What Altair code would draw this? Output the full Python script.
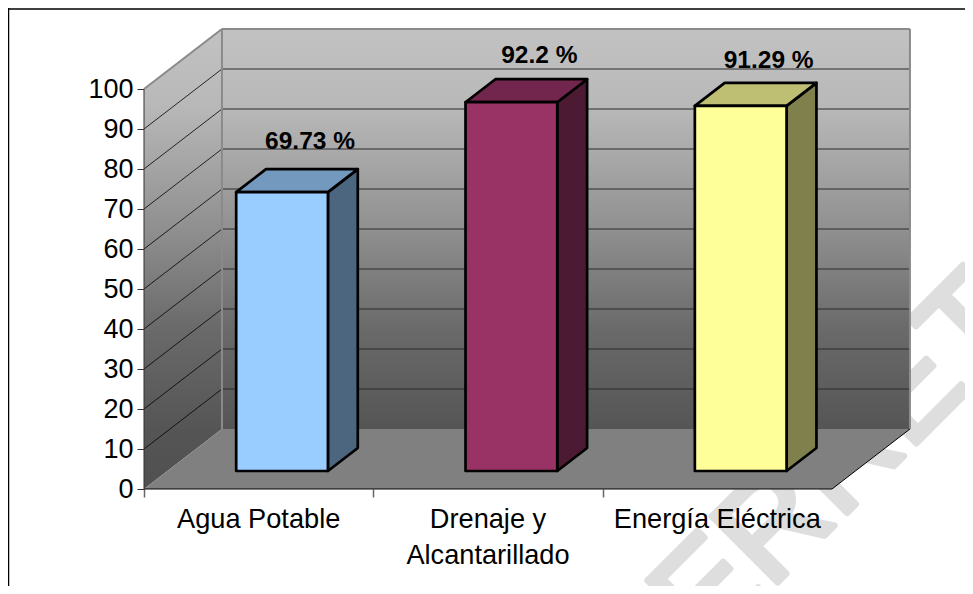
import altair as alt
import pandas as pd

categories = ["Agua Potable", "Drenaje y\nAlcantarillado", "Energía Eléctrica"]
values = [69.73, 92.2, 91.29]
value_labels = ["69.73 %", "92.2 %", "91.29 %"]
label_lift = [15.3, 14.2, 13.9]
front_colors = ["#99CCFF", "#993366", "#FFFF99"]
top_colors = ["#7399BF", "#73264D", "#BFBF73"]
side_colors = ["#4D6680", "#4D1A33", "#80804D"]
y_ticks = list(range(0, 101, 10))
x_ticks = [0, 1, 2, 3]
watermark = "ERRET"

# oblique projection, in data units
DX, DY = 0.34, 15
BAR_L, BAR_W = 0.3, 0.4
D0, D1 = 0.3, 0.683
FONT = "Liberation Sans"

xs = alt.Scale(domain=[-0.593, 3.58], nice=False, zero=False)
ys = alt.Scale(domain=[-24.25, 120.25], nice=False, zero=False)

x_axis = alt.Axis(
    values=x_ticks, labels=False, domain=False, grid=False, offset=-97,
    tickSize=8, tickColor="#666666", tickWidth=1.5, title=None)
y_axis = alt.Axis(
    values=y_ticks, domain=False, grid=False, offset=-136, tickSize=7,
    tickColor="#333333", tickWidth=1, labelFont=FONT, labelFontSize=27,
    labelColor="#000000", labelPadding=4, title=None)


def X(f="x"):
    return alt.X(f"{f}:Q", scale=xs, axis=x_axis, title=None)


def Y(f="y"):
    return alt.Y(f"{f}:Q", scale=ys, axis=y_axis, stack=None, title=None)


def area_layer(rows, **mark):
    return alt.Chart(pd.DataFrame(rows)).mark_area(**mark).encode(
        x=X(), y=Y(), y2=alt.Y2("y2:Q")
    )


wall_grad = alt.Gradient(
    gradient="linear", x1=0, x2=0, y1=0, y2=1,
    stops=[
        alt.GradientStop(offset=0, color="#c2c2c2"),
        alt.GradientStop(offset=0.2, color="#b8b8b8"),
        alt.GradientStop(offset=0.5, color="#909090"),
        alt.GradientStop(offset=0.75, color="#6a6a6a"),
        alt.GradientStop(offset=1, color="#555555"),
    ],
)
left_grad = alt.Gradient(
    gradient="linear", x1=0, x2=0, y1=0, y2=1,
    stops=[
        alt.GradientStop(offset=0, color="#c2c2c2"),
        alt.GradientStop(offset=0.17, color="#b8b8b8"),
        alt.GradientStop(offset=0.43, color="#909090"),
        alt.GradientStop(offset=0.65, color="#6a6a6a"),
        alt.GradientStop(offset=0.87, color="#555555"),
        alt.GradientStop(offset=1, color="#505050"),
    ],
)

wm = alt.Chart(pd.DataFrame({"x": [3.87], "y": [40.1], "t": [watermark]})).mark_text(
    angle=315, align="right", baseline="alphabetic", font=FONT, fontSize=136,
    color="#dedede", stroke="#dedede", strokeWidth=6, strokeJoin="round",
).encode(x=X(), y=Y(), text="t:N")

back = alt.Chart(pd.DataFrame({"x": [DX], "x2": [3 + DX], "y": [DY], "y2": [100 + DY]})).mark_rect(
    color=wall_grad).encode(x=X(), x2="x2:Q", y=Y(), y2="y2:Q")

left = area_layer(
    [{"x": 0, "y": 0, "y2": 100}, {"x": DX, "y": DY, "y2": 100 + DY}], color=left_grad
)
floor = area_layer(
    [{"x": 0, "y": 0, "y2": 0}, {"x": DX, "y": 0, "y2": DY},
     {"x": 3, "y": 0, "y2": DY}, {"x": 3 + DX, "y": DY, "y2": DY}],
    color="#808080",
)

grid_back = alt.Chart(pd.DataFrame({
    "x": [DX] * 9, "x2": [3 + DX] * 9, "y": [v + DY for v in y_ticks[1:-1]],
})).mark_rule(color="#2a2a2a", strokeWidth=1).encode(x=X(), x2="x2:Q", y=Y())

grid_left = alt.Chart(pd.DataFrame({
    "x": [0] * 9, "x2": [DX] * 9, "y": y_ticks[1:-1], "y2": [v + DY for v in y_ticks[1:-1]],
})).mark_rule(color="#000000", strokeWidth=0.8).encode(x=X(), x2="x2:Q", y=Y(), y2="y2:Q")


def seg_layer(rows, **mark):
    return alt.Chart(pd.DataFrame(rows)).mark_rule(**mark).encode(
        x=X(), x2="x2:Q", y=Y(), y2="y2:Q"
    )


wall_edges = seg_layer(
    [{"x": 0, "x2": DX, "y": 100, "y2": 100 + DY},
     {"x": DX, "x2": 3 + DX, "y": 100 + DY, "y2": 100 + DY},
     {"x": DX, "x2": DX, "y": DY, "y2": 100 + DY},
     {"x": 3 + DX, "x2": 3 + DX, "y": DY, "y2": 100 + DY}],
    color="#8a8a8a", strokeWidth=2,
)
floor_edges = seg_layer(
    [{"x": 0, "x2": 3, "y": 0, "y2": 0}, {"x": 3, "x2": 3 + DX, "y": 0, "y2": DY}],
    color="#000000", strokeWidth=1,
)
y_line = seg_layer([{"x": 0, "x2": 0, "y": 0, "y2": 100}], color="#333333", strokeWidth=1)

layers = [wm, back, left, floor, grid_back, grid_left, wall_edges, floor_edges, y_line]

for i, v in enumerate(values):
    xl = i + BAR_L + DX * D0
    xr = xl + BAR_W
    bx = DX * (D1 - D0)
    y0 = DY * D0
    by = DY * (D1 - D0)
    top = v + y0
    stroke = dict(stroke="#000000", strokeWidth=2.7, strokeJoin="round")
    layers.append(area_layer(
        [{"x": xr, "y": y0, "y2": top}, {"x": xr + bx, "y": y0 + by, "y2": top + by}],
        color=side_colors[i], **stroke))
    layers.append(area_layer(
        [{"x": xl, "y": top, "y2": top}, {"x": xl + bx, "y": top, "y2": top + by},
         {"x": xr, "y": top, "y2": top + by}, {"x": xr + bx, "y": top + by, "y2": top + by}],
        color=top_colors[i], **stroke))
    layers.append(alt.Chart(pd.DataFrame({"x": [xl], "x2": [xr], "y": [y0], "y2": [top]})).mark_rect(
        color=front_colors[i], **stroke).encode(x=X(), x2="x2:Q", y=Y(), y2="y2:Q"))

label_df = pd.DataFrame({
    "x": [i + 0.724 for i in range(3)],
    "y": [v + l for v, l in zip(values, label_lift)],
    "t": value_labels,
})
layers.append(alt.Chart(label_df).mark_text(
    font=FONT, fontSize=24.5, fontWeight="bold", color="#000000",
    align="center", baseline="alphabetic",
).encode(x=X(), y=Y(), text="t:N"))

cat_df = pd.DataFrame({"x": [i + 0.5 for i in range(3)], "y": [0] * 3, "t": categories})
layers.append(alt.Chart(cat_df).mark_text(
    font=FONT, fontSize=27.2, color="#000000", align="center", baseline="alphabetic",
    dy=39, lineBreak="\n", lineHeight=36,
).encode(x=X(), y=Y(), text="t:N"))

border_v = alt.Chart(pd.DataFrame({"a": [0]})).mark_rule(color="#000000", strokeWidth=1.5).encode(
    x=alt.value(0.5), y=alt.value(0), y2=alt.value(578))
border_h = alt.Chart(pd.DataFrame({"a": [0]})).mark_rule(color="#000000", strokeWidth=1.5).encode(
    y=alt.value(1), x=alt.value(0), x2=alt.value(957))
layers += [border_v, border_h]

chart = alt.layer(*layers).properties(
    width=957, height=578, padding=0,
    autosize=alt.AutoSizeParams(type="none"), background="#ffffff",
).configure_view(strokeWidth=0)

chart.save("out.html", embed_options={"renderer": "svg", "actions": False})
